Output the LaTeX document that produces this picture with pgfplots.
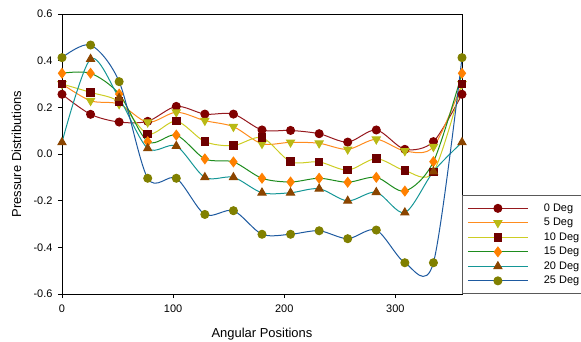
\documentclass[border=0pt]{standalone}
\usepackage{fontspec}
\setmainfont{Liberation Sans}
\usepackage{pgfplots}
\pgfplotsset{compat=1.18}
\definecolor{lA}{RGB}{150,25,30}
\definecolor{mA}{RGB}{128,0,0}
\definecolor{lB}{RGB}{255,140,30}
\definecolor{mB}{RGB}{185,185,20}
\definecolor{lC}{RGB}{205,205,35}
\definecolor{mC}{RGB}{110,0,0}
\definecolor{lD}{RGB}{30,140,30}
\definecolor{mD}{RGB}{255,128,0}
\definecolor{lE}{RGB}{20,150,150}
\definecolor{mE}{RGB}{139,69,0}
\definecolor{lF}{RGB}{30,90,160}
\definecolor{mF}{RGB}{128,128,0}
\pgfplotstableread{
x a b c d e f
0      0.256 0.300 0.300 0.346 0.050 0.413
25.71  0.170 0.228 0.264 0.346 0.407 0.467
51.43  0.137 0.214 0.224 0.257 0.240 0.310
77.14  0.140 0.136 0.086 0.053 0.024 -0.104
102.86 0.204 0.179 0.141 0.081 0.034 -0.104
128.57 0.171 0.143 0.053 -0.021 -0.100 -0.259
154.29 0.171 0.117 0.036 -0.034 -0.100 -0.243
180    0.103 0.044 0.070 -0.104 -0.166 -0.344
205.71 0.101 0.050 -0.033 -0.120 -0.166 -0.344
231.43 0.087 0.046 -0.034 -0.104 -0.149 -0.329
257.14 0.051 0.020 -0.069 -0.121 -0.201 -0.363
282.86 0.103 0.063 -0.020 -0.100 -0.164 -0.326
308.57 0.020 0.013 -0.071 -0.159 -0.251 -0.466
334.29 0.053 0.031 -0.077 -0.033 -0.075 -0.466
360    0.256 0.300 0.300 0.346 0.050 0.413
}\datatable
\begin{document}
\begin{tikzpicture}
\begin{axis}[
  at={(0,0)}, anchor=south west,
  scale only axis, width=400bp, height=280bp,
  xmin=0, xmax=360, ymin=-0.6, ymax=0.6,
  xtick={0,100,200,300}, xticklabels={0,100,200,300},
  ytick={-0.6,-0.4,-0.2,0,0.2,0.4,0.6},
  yticklabels={-0.6,-0.4,-0.2,0.0,0.2,0.4,0.6},
  tick pos=left, tick align=outside, major tick length=4bp,
  tick style={black, line width=0.8bp},
  axis line style={line width=0.9bp},
  ticklabel style={font=\fontsize{11}{13}\selectfont},
  yticklabel style={xshift=-2bp},
  xticklabel style={yshift=-3bp},
  xlabel={Angular Positions}, ylabel={Pressure Distributions},
  label style={font=\fontsize{13}{15}\selectfont},
  xlabel style={at={(axis description cs:0.5,-0.157)}, anchor=base},
  ylabel style={at={(axis description cs:-0.1025,0.5)}, anchor=base},
  legend cell align=left,
  legend style={at={(axis description cs:1,0)}, anchor=south west,
    draw=black!65, line width=0.8bp, inner xsep=5bp, inner ysep=5.5bp,
    font=\fontsize{11}{13}\selectfont,
    nodes={text height=8.5bp, text depth=3bp, inner sep=1.5bp},
    /tikz/every odd column/.append style={column sep=14bp}},
  legend image code/.code={\draw[mark repeat=2,mark phase=2,#1] plot coordinates {(0bp,0bp) (30bp,0bp) (60bp,0bp)};},
  every axis plot/.append style={line width=1bp, smooth, tension=0.5},
]
\addplot[color=lA, mark=*, mark size=4bp, mark options={fill=mA, draw=mA}] table[x=x,y=a] {\datatable};
\addlegendentry{0 Deg}
\addplot[color=lB, mark=triangle*, mark size=4.6bp, mark options={rotate=180, fill=mB, draw=mB}] table[x=x,y=b] {\datatable};
\addlegendentry{5 Deg}
\addplot[color=lC, mark=square*, mark size=3.8bp, mark options={fill=mC, draw=mC}] table[x=x,y=c] {\datatable};
\addlegendentry{10 Deg}
\addplot[color=lD, mark=diamond*, mark size=4.8bp, mark options={fill=mD, draw=mD}] table[x=x,y=d] {\datatable};
\addlegendentry{15 Deg}
\addplot[color=lE, mark=triangle*, mark size=4.6bp, mark options={fill=mE, draw=mE}] table[x=x,y=e] {\datatable};
\addlegendentry{20 Deg}
\addplot[color=lF, mark=*, mark size=4bp, mark options={fill=mF, draw=mF}] table[x=x,y=f] {\datatable};
\addlegendentry{25 Deg}
\end{axis}
\pgfresetboundingbox
\path[use as bounding box] (-62bp,-48bp) rectangle (519bp,294bp);
\end{tikzpicture}
\end{document}
